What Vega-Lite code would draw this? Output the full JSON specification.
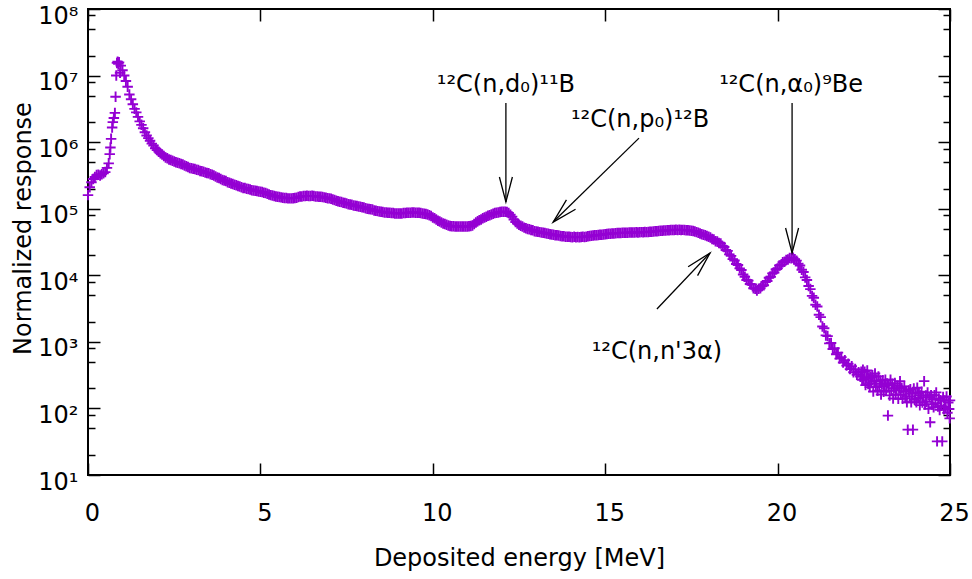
{
  "$schema": "https://vega.github.io/schema/vega-lite/v6.json",
  "width": 862,
  "height": 466,
  "autosize": {"type": "none"},
  "padding": {"left": 88, "top": 9, "right": 22, "bottom": 104},
  "background": "white",
  "config": {
    "font": "DejaVu Sans",
    "view": {"stroke": "black", "strokeWidth": 2},
    "axis": {"grid": false, "domain": false, "tickColor": "black", "tickWidth": 1.5, "labelColor": "black", "labelFontSize": 24, "labelFont": "DejaVu Sans", "titleFont": "DejaVu Sans", "titleFontSize": 24, "titleFontWeight": "normal", "titleColor": "black", "labelOverlap": false, "labelFlush": false}
  },
  "datasets": {
    "main": [
      {"e":0.00,"r":1.6e5},{"e":0.05,"r":2.1e5},{"e":0.10,"r":2.5e5},{"e":0.15,"r":2.8e5},{"e":0.20,"r":3.0e5},{"e":0.25,"r":3.2e5},{"e":0.30,"r":3.25e5},{"e":0.35,"r":3.15e5},{"e":0.40,"r":3.3e5},{"e":0.45,"r":3.4e5},{"e":0.50,"r":3.55e5},{"e":0.55,"r":4.1e5},{"e":0.60,"r":4.8e5},{"e":0.63,"r":6.6e5},{"e":0.65,"r":8.3e5},{"e":0.67,"r":1.12e6},{"e":0.70,"r":1.66e6},{"e":0.72,"r":2.0e6},{"e":0.75,"r":2.3e6},{"e":0.78,"r":2.75e6},{"e":0.80,"r":4.8e6},{"e":0.82,"r":1.0e7},{"e":0.84,"r":1.55e7},{"e":0.86,"r":1.62e7},{"e":0.88,"r":1.5e7},{"e":0.90,"r":1.58e7},{"e":0.93,"r":1.1e7},{"e":0.95,"r":1.41e7},{"e":1.00,"r":1.2e7},{"e":1.05,"r":1.0e7},
      {"e":1.10,"r":8.3e6},{"e":1.15,"r":6.8e6},{"e":1.20,"r":5.2e6},{"e":1.25,"r":4.4e6},{"e":1.30,"r":3.7e6},{"e":1.35,"r":3.16e6},{"e":1.40,"r":2.8e6},{"e":1.45,"r":2.4e6},{"e":1.50,"r":2.05e6},{"e":1.55,"r":1.82e6},{"e":1.60,"r":1.62e6},{"e":1.65,"r":1.41e6},{"e":1.70,"r":1.26e6},{"e":1.75,"r":1.15e6},{"e":1.80,"r":1.05e6},{"e":1.85,"r":9.5e5},{"e":1.90,"r":8.9e5},{"e":1.95,"r":8.1e5},{"e":2.00,"r":7.6e5},{"e":2.05,"r":7.2e5},{"e":2.10,"r":6.8e5},{"e":2.15,"r":6.5e5},{"e":2.20,"r":6.2e5},{"e":2.25,"r":5.9e5},{"e":2.30,"r":5.75e5},{"e":2.35,"r":5.5e5},{"e":2.40,"r":5.4e5},{"e":2.45,"r":5.25e5},{"e":2.50,"r":5.1e5},{"e":2.55,"r":5.0e5},{"e":2.60,"r":4.9e5},{"e":2.65,"r":4.8e5},{"e":2.70,"r":4.7e5},{"e":2.75,"r":4.6e5},{"e":2.80,"r":4.45e5},{"e":2.85,"r":4.35e5},{"e":2.90,"r":4.25e5},{"e":2.95,"r":4.1e5},
      {"e":3.00,"r":4.05e5},{"e":3.05,"r":4.0e5},{"e":3.10,"r":3.95e5},{"e":3.15,"r":3.85e5},{"e":3.20,"r":3.8e5},{"e":3.25,"r":3.7e5},{"e":3.30,"r":3.65e5},{"e":3.35,"r":3.6e5},{"e":3.40,"r":3.5e5},{"e":3.45,"r":3.45e5},{"e":3.50,"r":3.4e5},{"e":3.55,"r":3.3e5},{"e":3.60,"r":3.25e5},{"e":3.65,"r":3.15e5},{"e":3.70,"r":3.05e5},{"e":3.75,"r":2.95e5},{"e":3.80,"r":2.9e5},{"e":3.85,"r":2.8e5},{"e":3.90,"r":2.7e5},{"e":3.95,"r":2.65e5},{"e":4.00,"r":2.6e5},{"e":4.05,"r":2.5e5},{"e":4.10,"r":2.45e5},{"e":4.15,"r":2.4e5},{"e":4.20,"r":2.35e5},{"e":4.25,"r":2.3e5},{"e":4.30,"r":2.25e5},{"e":4.35,"r":2.2e5},{"e":4.40,"r":2.15e5},{"e":4.45,"r":2.1e5},{"e":4.50,"r":2.05e5},{"e":4.55,"r":2.05e5},{"e":4.60,"r":2.0e5},{"e":4.65,"r":1.97e5},{"e":4.70,"r":1.95e5},{"e":4.75,"r":1.9e5},{"e":4.80,"r":1.88e5},{"e":4.85,"r":1.86e5},{"e":4.90,"r":1.84e5},{"e":4.95,"r":1.82e5},
      {"e":5.00,"r":1.8e5},{"e":5.05,"r":1.78e5},{"e":5.10,"r":1.74e5},{"e":5.15,"r":1.72e5},{"e":5.20,"r":1.68e5},{"e":5.25,"r":1.64e5},{"e":5.30,"r":1.6e5},{"e":5.35,"r":1.58e5},{"e":5.40,"r":1.55e5},{"e":5.45,"r":1.53e5},{"e":5.50,"r":1.51e5},{"e":5.55,"r":1.5e5},{"e":5.60,"r":1.48e5},{"e":5.65,"r":1.46e5},{"e":5.70,"r":1.45e5},{"e":5.75,"r":1.45e5},{"e":5.80,"r":1.43e5},{"e":5.85,"r":1.43e5},{"e":5.90,"r":1.43e5},{"e":5.95,"r":1.44e5},{"e":6.00,"r":1.45e5},{"e":6.05,"r":1.46e5},{"e":6.10,"r":1.5e5},{"e":6.15,"r":1.52e5},{"e":6.20,"r":1.53e5},{"e":6.25,"r":1.55e5},{"e":6.30,"r":1.55e5},{"e":6.35,"r":1.56e5},{"e":6.40,"r":1.55e5},{"e":6.45,"r":1.55e5},{"e":6.50,"r":1.56e5},{"e":6.55,"r":1.55e5},{"e":6.60,"r":1.53e5},{"e":6.65,"r":1.53e5},{"e":6.70,"r":1.51e5},{"e":6.75,"r":1.51e5},{"e":6.80,"r":1.5e5},{"e":6.85,"r":1.48e5},{"e":6.90,"r":1.46e5},{"e":6.95,"r":1.44e5},
      {"e":7.00,"r":1.43e5},{"e":7.05,"r":1.41e5},{"e":7.10,"r":1.38e5},{"e":7.15,"r":1.35e5},{"e":7.20,"r":1.32e5},{"e":7.25,"r":1.29e5},{"e":7.30,"r":1.27e5},{"e":7.35,"r":1.26e5},{"e":7.40,"r":1.23e5},{"e":7.45,"r":1.22e5},{"e":7.50,"r":1.2e5},{"e":7.55,"r":1.17e5},{"e":7.60,"r":1.16e5},{"e":7.65,"r":1.15e5},{"e":7.70,"r":1.12e5},{"e":7.75,"r":1.11e5},{"e":7.80,"r":1.1e5},{"e":7.85,"r":1.08e5},{"e":7.90,"r":1.07e5},{"e":7.95,"r":1.05e5},{"e":8.00,"r":1.04e5},{"e":8.05,"r":1.02e5},{"e":8.10,"r":1.0e5},{"e":8.15,"r":9.9e4},{"e":8.20,"r":9.8e4},{"e":8.25,"r":9.7e4},{"e":8.30,"r":9.4e4},{"e":8.35,"r":9.3e4},{"e":8.40,"r":9.2e4},{"e":8.45,"r":9.1e4},{"e":8.50,"r":9.0e4},{"e":8.55,"r":8.9e4},{"e":8.60,"r":8.8e4},{"e":8.65,"r":8.8e4},{"e":8.70,"r":8.7e4},{"e":8.75,"r":8.7e4},{"e":8.80,"r":8.6e4},{"e":8.85,"r":8.6e4},{"e":8.90,"r":8.5e4},{"e":8.95,"r":8.5e4},
      {"e":9.00,"r":8.5e4},{"e":9.05,"r":8.5e4},{"e":9.10,"r":8.5e4},{"e":9.15,"r":8.6e4},{"e":9.20,"r":8.6e4},{"e":9.25,"r":8.7e4},{"e":9.30,"r":8.7e4},{"e":9.35,"r":8.7e4},{"e":9.40,"r":8.8e4},{"e":9.45,"r":8.8e4},{"e":9.50,"r":8.7e4},{"e":9.55,"r":8.7e4},{"e":9.60,"r":8.7e4},{"e":9.65,"r":8.6e4},{"e":9.70,"r":8.5e4},{"e":9.75,"r":8.4e4},{"e":9.80,"r":8.3e4},{"e":9.85,"r":8.2e4},{"e":9.90,"r":8.0e4},{"e":9.95,"r":7.8e4},{"e":10.00,"r":7.4e4},{"e":10.05,"r":7.2e4},{"e":10.10,"r":6.9e4},{"e":10.15,"r":6.6e4},{"e":10.20,"r":6.4e4},{"e":10.25,"r":6.2e4},{"e":10.30,"r":6.0e4},{"e":10.35,"r":5.9e4},{"e":10.40,"r":5.75e4},{"e":10.45,"r":5.6e4},{"e":10.50,"r":5.5e4},{"e":10.55,"r":5.45e4},{"e":10.60,"r":5.45e4},{"e":10.65,"r":5.4e4},{"e":10.70,"r":5.4e4},{"e":10.75,"r":5.4e4},{"e":10.80,"r":5.4e4},{"e":10.85,"r":5.4e4},{"e":10.90,"r":5.4e4},{"e":10.95,"r":5.4e4},
      {"e":11.00,"r":5.4e4},{"e":11.05,"r":5.45e4},{"e":11.10,"r":5.5e4},{"e":11.15,"r":5.6e4},{"e":11.20,"r":5.9e4},{"e":11.25,"r":6.2e4},{"e":11.30,"r":6.5e4},{"e":11.35,"r":6.7e4},{"e":11.40,"r":6.9e4},{"e":11.45,"r":7.2e4},{"e":11.50,"r":7.4e4},{"e":11.55,"r":7.6e4},{"e":11.60,"r":7.85e4},{"e":11.65,"r":8.0e4},{"e":11.70,"r":8.2e4},{"e":11.75,"r":8.4e4},{"e":11.80,"r":8.6e4},{"e":11.85,"r":8.7e4},{"e":11.90,"r":8.8e4},{"e":11.95,"r":8.9e4},{"e":12.00,"r":9.0e4},{"e":12.05,"r":9.0e4},{"e":12.10,"r":9.0e4},{"e":12.15,"r":8.9e4},{"e":12.20,"r":8.6e4},{"e":12.25,"r":8.1e4},{"e":12.30,"r":7.6e4},{"e":12.35,"r":6.9e4},{"e":12.40,"r":6.3e4},{"e":12.45,"r":6.0e4},{"e":12.50,"r":5.75e4},{"e":12.55,"r":5.55e4},{"e":12.60,"r":5.4e4},{"e":12.65,"r":5.2e4},{"e":12.70,"r":5.1e4},{"e":12.75,"r":4.95e4},{"e":12.80,"r":4.9e4},{"e":12.85,"r":4.8e4},{"e":12.90,"r":4.75e4},{"e":12.95,"r":4.6e4},
      {"e":13.00,"r":4.55e4},{"e":13.05,"r":4.5e4},{"e":13.10,"r":4.45e4},{"e":13.15,"r":4.4e4},{"e":13.20,"r":4.35e4},{"e":13.25,"r":4.3e4},{"e":13.30,"r":4.25e4},{"e":13.35,"r":4.2e4},{"e":13.40,"r":4.15e4},{"e":13.45,"r":4.1e4},{"e":13.50,"r":4.05e4},{"e":13.55,"r":4.0e4},{"e":13.60,"r":3.98e4},{"e":13.65,"r":3.95e4},{"e":13.70,"r":3.9e4},{"e":13.75,"r":3.85e4},{"e":13.80,"r":3.85e4},{"e":13.85,"r":3.8e4},{"e":13.90,"r":3.8e4},{"e":13.95,"r":3.8e4},{"e":14.00,"r":3.76e4},{"e":14.05,"r":3.72e4},{"e":14.10,"r":3.78e4},{"e":14.15,"r":3.74e4},{"e":14.20,"r":3.77e4},{"e":14.25,"r":3.73e4},{"e":14.30,"r":3.76e4},{"e":14.35,"r":3.8e4},{"e":14.40,"r":3.75e4},{"e":14.45,"r":3.8e4},{"e":14.50,"r":3.85e4},{"e":14.55,"r":3.88e4},{"e":14.60,"r":3.92e4},{"e":14.65,"r":3.96e4},{"e":14.70,"r":3.98e4},{"e":14.75,"r":4.0e4},{"e":14.80,"r":4.02e4},{"e":14.85,"r":4.05e4},{"e":14.90,"r":4.08e4},{"e":14.95,"r":4.1e4},
      {"e":15.00,"r":4.15e4},{"e":15.05,"r":4.18e4},{"e":15.10,"r":4.2e4},{"e":15.15,"r":4.22e4},{"e":15.20,"r":4.25e4},{"e":15.25,"r":4.26e4},{"e":15.30,"r":4.28e4},{"e":15.35,"r":4.3e4},{"e":15.40,"r":4.3e4},{"e":15.45,"r":4.32e4},{"e":15.50,"r":4.35e4},{"e":15.55,"r":4.34e4},{"e":15.60,"r":4.37e4},{"e":15.65,"r":4.36e4},{"e":15.70,"r":4.38e4},{"e":15.75,"r":4.4e4},{"e":15.80,"r":4.39e4},{"e":15.85,"r":4.41e4},{"e":15.90,"r":4.42e4},{"e":15.95,"r":4.4e4},{"e":16.00,"r":4.43e4},{"e":16.05,"r":4.45e4},{"e":16.10,"r":4.44e4},{"e":16.15,"r":4.46e4},{"e":16.20,"r":4.45e4},{"e":16.25,"r":4.48e4},{"e":16.30,"r":4.5e4},{"e":16.35,"r":4.52e4},{"e":16.40,"r":4.55e4},{"e":16.45,"r":4.57e4},{"e":16.50,"r":4.6e4},{"e":16.55,"r":4.62e4},{"e":16.60,"r":4.65e4},{"e":16.65,"r":4.67e4},{"e":16.70,"r":4.7e4},{"e":16.75,"r":4.72e4},{"e":16.80,"r":4.74e4},{"e":16.85,"r":4.76e4},{"e":16.90,"r":4.78e4},{"e":16.95,"r":4.8e4},
      {"e":17.00,"r":4.8e4},{"e":17.05,"r":4.82e4},{"e":17.10,"r":4.8e4},{"e":17.15,"r":4.83e4},{"e":17.20,"r":4.8e4},{"e":17.25,"r":4.81e4},{"e":17.30,"r":4.78e4},{"e":17.35,"r":4.76e4},{"e":17.40,"r":4.73e4},{"e":17.45,"r":4.7e4},{"e":17.50,"r":4.66e4},{"e":17.55,"r":4.62e4},{"e":17.60,"r":4.56e4},{"e":17.65,"r":4.45e4},{"e":17.70,"r":4.35e4},{"e":17.75,"r":4.25e4},{"e":17.80,"r":4.15e4},{"e":17.85,"r":4.05e4},{"e":17.90,"r":3.98e4},{"e":17.95,"r":3.9e4},{"e":18.00,"r":3.8e4},{"e":18.05,"r":3.7e4},{"e":18.10,"r":3.5e4},{"e":18.15,"r":3.45e4},{"e":18.20,"r":3.25e4},{"e":18.25,"r":3.22e4},{"e":18.30,"r":3.05e4},{"e":18.35,"r":3.0e4},{"e":18.40,"r":2.75e4},{"e":18.45,"r":2.66e4},{"e":18.50,"r":2.4e4},{"e":18.55,"r":2.33e4},{"e":18.60,"r":2.06e4},{"e":18.65,"r":1.96e4},{"e":18.70,"r":1.75e4},{"e":18.75,"r":1.67e4},{"e":18.80,"r":1.48e4},{"e":18.85,"r":1.43e4},{"e":18.90,"r":1.27e4},{"e":18.95,"r":1.2e4},
      {"e":19.00,"r":1.03e4},{"e":19.05,"r":9.5e3},{"e":19.10,"r":8.5e3},{"e":19.15,"r":8.3e3},{"e":19.20,"r":7.4e3},{"e":19.25,"r":7.3e3},{"e":19.30,"r":6.4e3},{"e":19.35,"r":6.3e3},{"e":19.40,"r":5.9e3},{"e":19.45,"r":6.3e3},{"e":19.50,"r":6.4e3},{"e":19.55,"r":6.9e3},{"e":19.60,"r":7.1e3},{"e":19.65,"r":7.9e3},{"e":19.70,"r":8.2e3},{"e":19.75,"r":9.2e3},{"e":19.80,"r":9.5e3},{"e":19.85,"r":1.07e4},{"e":19.90,"r":1.1e4},{"e":19.95,"r":1.22e4},{"e":20.00,"r":1.27e4},{"e":20.05,"r":1.4e4},{"e":20.10,"r":1.44e4},{"e":20.15,"r":1.57e4},{"e":20.20,"r":1.6e4},{"e":20.25,"r":1.7e4},{"e":20.30,"r":1.72e4},{"e":20.35,"r":1.82e4},{"e":20.40,"r":1.8e4},{"e":20.45,"r":1.84e4},{"e":20.50,"r":1.74e4},{"e":20.55,"r":1.66e4},{"e":20.60,"r":1.49e4},{"e":20.65,"r":1.4e4},{"e":20.70,"r":1.21e4},{"e":20.75,"r":1.12e4},{"e":20.80,"r":9.3e3},{"e":20.85,"r":8.5e3},{"e":20.90,"r":6.9e3},{"e":20.95,"r":6.2e3},
      {"e":21.00,"r":4.9e3},{"e":21.05,"r":4.6e3},{"e":21.10,"r":3.6e3},{"e":21.15,"r":3.4e3},{"e":21.20,"r":2.55e3},{"e":21.25,"r":2.35e3},{"e":21.30,"r":1.7e3},{"e":21.35,"r":1.6e3},{"e":21.40,"r":1.25e3},{"e":21.45,"r":1.22e3},{"e":21.50,"r":9.5e2},{"e":21.55,"r":9.6e2},{"e":21.60,"r":7.8e2},{"e":21.65,"r":8.0e2},{"e":21.70,"r":6.5e2},{"e":21.75,"r":6.9e2},{"e":21.80,"r":5.6e2},{"e":21.85,"r":5.9e2},{"e":21.90,"r":4.9e2},{"e":21.95,"r":5.3e2},{"e":22.00,"r":4.4e2},{"e":22.05,"r":4.7e2},{"e":22.10,"r":3.9e2},{"e":22.15,"r":4.3e2},{"e":22.20,"r":3.5e2},{"e":22.25,"r":3.9e2},{"e":22.30,"r":3.2e2},{"e":22.35,"r":3.5e2},{"e":22.40,"r":3.0e2},
      {"e":22.425,"r":355},{"e":22.45,"r":270},{"e":22.475,"r":380},{"e":22.5,"r":275},{"e":22.525,"r":355},{"e":22.55,"r":224},{"e":22.575,"r":288},{"e":22.6,"r":372},{"e":22.625,"r":232},{"e":22.65,"r":288},{"e":22.675,"r":209},{"e":22.7,"r":299},{"e":22.725,"r":240},{"e":22.75,"r":316},{"e":22.775,"r":180},{"e":22.8,"r":257},{"e":22.825,"r":335},{"e":22.85,"r":209},{"e":22.875,"r":263},{"e":22.9,"r":184},{"e":22.925,"r":302},{"e":22.95,"r":216},{"e":22.975,"r":263},
      {"e":23.0,"r":162},{"e":23.025,"r":234},{"e":23.05,"r":266},{"e":23.075,"r":178},{"e":23.1,"r":216},{"e":23.125,"r":269},{"e":23.15,"r":186},{"e":23.175,"r":237},{"e":23.2,"r":78},{"e":23.225,"r":224},{"e":23.25,"r":157},{"e":23.275,"r":269},{"e":23.3,"r":184},{"e":23.325,"r":234},{"e":23.35,"r":141},{"e":23.375,"r":202},{"e":23.4,"r":240},{"e":23.425,"r":162},{"e":23.45,"r":188},{"e":23.475,"r":219},{"e":23.5,"r":140},{"e":23.525,"r":200},{"e":23.55,"r":257},{"e":23.575,"r":160},{"e":23.6,"r":204},{"e":23.625,"r":140},{"e":23.65,"r":178},{"e":23.675,"r":214},{"e":23.7,"r":143},{"e":23.725,"r":182},{"e":23.75,"r":124},{"e":23.775,"r":48},{"e":23.8,"r":186},{"e":23.825,"r":153},{"e":23.85,"r":195},{"e":23.875,"r":124},{"e":23.9,"r":166},{"e":23.925,"r":48},{"e":23.95,"r":200},{"e":23.975,"r":135},
      {"e":24.0,"r":170},{"e":24.025,"r":124},{"e":24.05,"r":204},{"e":24.075,"r":143},{"e":24.1,"r":170},{"e":24.125,"r":112},{"e":24.15,"r":157},{"e":24.175,"r":178},{"e":24.2,"r":123},{"e":24.225,"r":146},{"e":24.25,"r":257},{"e":24.275,"r":115},{"e":24.3,"r":157},{"e":24.325,"r":126},{"e":24.35,"r":174},{"e":24.375,"r":99},{"e":24.4,"r":148},{"e":24.425,"r":62},{"e":24.45,"r":158},{"e":24.475,"r":115},{"e":24.5,"r":138},{"e":24.525,"r":104},{"e":24.55,"r":158},{"e":24.575,"r":120},{"e":24.6,"r":174},{"e":24.625,"r":32},{"e":24.65,"r":107},{"e":24.675,"r":141},{"e":24.7,"r":95},{"e":24.725,"r":133},{"e":24.75,"r":110},{"e":24.775,"r":32},{"e":24.8,"r":148},{"e":24.825,"r":97},{"e":24.85,"r":132},{"e":24.875,"r":105},{"e":24.9,"r":151},{"e":24.925,"r":86},{"e":24.95,"r":123},{"e":24.975,"r":98},{"e":24.99,"r":71},{"e":25.0,"r":132}
    ],
    "ann": [
      {"id":"d0","label":"¹²C(n,d₀)¹¹B","tx":12.12,"ty":5.66e6,"sx":12.12,"sy":3.87e6,"hx":12.12,"hy":1.26e5},
      {"id":"p0","label":"¹²C(n,p₀)¹²B","tx":16.01,"ty":1.69e6,"sx":15.98,"sy":1.15e6,"hx":13.49,"hy":6.3e4},
      {"id":"a0","label":"¹²C(n,α₀)⁹Be","tx":20.39,"ty":5.66e6,"sx":20.42,"sy":3.87e6,"hx":20.42,"hy":2.16e4},
      {"id":"n3a","label":"¹²C(n,n'3α)","tx":16.5,"ty":552,"sx":16.5,"sy":3.11e3,"hx":18.04,"hy":2.16e4}
    ]
  },
  "resolve": {"axis": {"x": "independent", "y": "independent"}},
  "layer": [
    {
      "data": {"name": "main"},
      "mark": {"type": "point", "shape": "M -1 0 L 1 0 M 0 -1 L 0 1", "filled": false, "color": "#9400d3", "strokeWidth": 1.9, "size": 110, "opacity": 1},
      "encoding": {
        "x": {"field": "e", "type": "quantitative", "scale": {"domain": [0, 25], "nice": false, "zero": false},
          "axis": {"orient": "bottom", "values": [0, 5, 10, 15, 20, 25], "tickSize": -12, "labelPadding": 38, "labelOffset": 4, "title": "Deposited energy [MeV]", "titleY": 90, "titleBaseline": "alphabetic"}},
        "y": {"field": "r", "type": "quantitative", "scale": {"type": "log", "domain": [10, 100000000], "nice": false},
          "axis": {"orient": "left",
            "values": [10,20,50,80,100,200,500,800,1000,2000,5000,8000,10000,20000,50000,80000,100000,200000,500000,800000,1000000,2000000,5000000,8000000,10000000,20000000,50000000,80000000,100000000],
            "tickSize": {"condition": {"test": "abs(log(datum.value)/LN10 - round(log(datum.value)/LN10)) < 0.001", "value": -12}, "value": -7},
            "labelExpr": "abs(log(datum.value)/LN10 - round(log(datum.value)/LN10)) < 0.001 ? '10' + ['⁰','¹','²','³','⁴','⁵','⁶','⁷','⁸','⁹'][round(log(datum.value)/LN10)] : ''",
            "labelPadding": 22, "labelOffset": 7, "labelBaseline": "middle",
            "title": "Normalized response", "titleX": -58, "titleY": 219, "titleAngle": 270, "titleBaseline": "alphabetic", "titleAlign": "center"}}
      }
    },
    {
      "data": {"name": "ann"},
      "mark": {"type": "rule", "color": "black", "strokeWidth": 1.3},
      "encoding": {
        "x": {"field": "sx", "type": "quantitative", "scale": {"domain": [0, 25], "nice": false, "zero": false},
          "axis": {"orient": "top", "values": [0, 5, 10, 15, 20, 25], "tickSize": -12, "labels": false, "title": null}},
        "x2": {"field": "hx"},
        "y": {"field": "sy", "type": "quantitative", "scale": {"type": "log", "domain": [10, 100000000], "nice": false},
          "axis": {"orient": "right",
            "values": [10,20,50,80,100,200,500,800,1000,2000,5000,8000,10000,20000,50000,80000,100000,200000,500000,800000,1000000,2000000,5000000,8000000,10000000,20000000,50000000,80000000,100000000],
            "tickSize": {"condition": {"test": "abs(log(datum.value)/LN10 - round(log(datum.value)/LN10)) < 0.001", "value": -12}, "value": -7},
            "labels": false, "title": null}},
        "y2": {"field": "hy"}
      }
    },
    {
      "data": {"name": "ann"},
      "mark": {"type": "point", "shape": "M -0.26 1 L 0 0 L 0.26 1", "filled": false, "color": "black", "strokeWidth": 1.3, "size": 2500, "opacity": 1},
      "encoding": {
        "x": {"field": "hx", "type": "quantitative", "scale": {"domain": [0, 25], "nice": false, "zero": false}, "axis": null},
        "y": {"field": "hy", "type": "quantitative", "scale": {"type": "log", "domain": [10, 100000000], "nice": false}, "axis": null},
        "angle": {"condition": [{"test": "datum.id === 'p0'", "value": 225.6}, {"test": "datum.id === 'n3a'", "value": 43.4}], "value": 180}
      }
    },
    {
      "data": {"name": "ann"},
      "mark": {"type": "text", "font": "DejaVu Sans", "fontSize": 24, "color": "black", "align": "center", "baseline": "alphabetic"},
      "encoding": {
        "x": {"field": "tx", "type": "quantitative", "scale": {"domain": [0, 25], "nice": false, "zero": false}, "axis": null},
        "y": {"field": "ty", "type": "quantitative", "scale": {"type": "log", "domain": [10, 100000000], "nice": false}, "axis": null},
        "text": {"field": "label"}
      }
    }
  ]
}
